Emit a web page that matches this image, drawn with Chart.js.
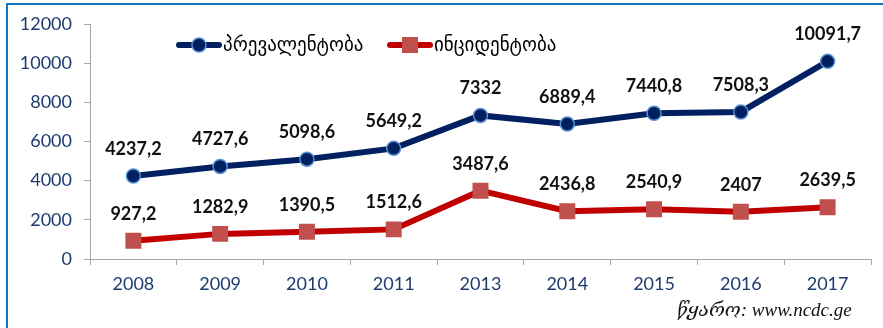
<!DOCTYPE html>
<html>
<head>
<meta charset="utf-8">
<script src="https://cdn.jsdelivr.net/npm/chart.js@4/dist/chart.umd.min.js"></script>
<style>
  html, body { margin: 0; padding: 0; background: #fff; }
  #wrap { position: relative; width: 883px; height: 328px; overflow: hidden; }
  #frame { position: absolute; left: 6px; top: 3px; right: -10px; bottom: -10px;
           border-left: 2px solid #1274c4; border-top: 2px solid #1274c4; pointer-events: none; }
  #src { position: absolute; left: 677px; top: 298px; font: italic 19px "Liberation Serif", "DejaVu Serif", serif; color: #111; }
  canvas { position: absolute; left: 0; top: 0; }
</style>
</head>
<body>
<div id="wrap">
  <canvas id="c" width="883" height="328"></canvas>
  <div id="frame"></div>
  <div id="src">წყარო: www.ncdc.ge</div>
</div>
<script>
// Years on the horizontal axis
const years = ['2008', '2009', '2010', '2011', '2013', '2014', '2015', '2016', '2017'];
// Prevalence and incidence per year
const prevalence = [4237.2, 4727.6, 5098.6, 5649.2, 7332, 6889.4, 7440.8, 7508.3, 10091.7];
const incidence = [927.2, 1282.9, 1390.5, 1512.6, 3487.6, 2436.8, 2540.9, 2407, 2639.5];
const seriesNames = ['პრევალენტობა', 'ინციდენტობა'];
// Value axis range
const yMin = 0, yMax = 12000, yStep = 2000;

const fmt = v => String(v).replace('.', ',');

// Value labels above every point
const valueLabels = {
  id: 'valueLabels',
  afterDatasetsDraw(chart) {
    const ctx = chart.ctx;
    ctx.save();
    ctx.font = 'bold 18px Lato, "Liberation Sans", sans-serif';
    ctx.fillStyle = '#111';
    ctx.textAlign = 'center';
    ctx.textBaseline = 'middle';
    chart.data.datasets.forEach((ds, i) => {
      chart.getDatasetMeta(i).data.forEach((pt, j) => {
        ctx.fillText(fmt(ds.data[j]), pt.x, pt.y - 27);
      });
    });
    ctx.restore();
  }
};

// Legend: thick line sample with marker, followed by the series name
const lineLegend = {
  id: 'lineLegend',
  afterDraw(chart) {
    const ctx = chart.ctx;
    const items = [
      { x: 176, ds: chart.data.datasets[0] },
      { x: 387, ds: chart.data.datasets[1] }
    ];
    const y = 45;
    ctx.save();
    items.forEach(it => {
      const ds = it.ds;
      ctx.strokeStyle = ds.borderColor;
      ctx.lineWidth = 6;
      ctx.lineCap = 'round';
      ctx.beginPath();
      ctx.moveTo(it.x + 3, y);
      ctx.lineTo(it.x + 43, y);
      ctx.stroke();
      const cx = it.x + 23;
      ctx.fillStyle = ds.pointBackgroundColor;
      ctx.strokeStyle = ds.pointBorderColor;
      ctx.lineWidth = 1.5;
      if (ds.pointStyle === 'rect') {
        ctx.fillRect(cx - 8, y - 8, 16, 16);
      } else {
        ctx.beginPath();
        ctx.arc(cx, y, 7, 0, Math.PI * 2);
        ctx.fill();
        ctx.stroke();
      }
      ctx.fillStyle = '#000';
      ctx.font = '19px "DejaVu Sans", sans-serif';
      ctx.textAlign = 'left';
      ctx.textBaseline = 'middle';
      ctx.fillText(ds.label, it.x + 47, y + 1);
    });
    ctx.restore();
  }
};

const axisGrey = '#a6a6a6';
const tickFont = { family: 'Lato, "Liberation Sans", sans-serif', size: 18 };

new Chart(document.getElementById('c'), {
  type: 'line',
  data: {
    labels: years,
    datasets: [
      {
        label: seriesNames[0],
        data: prevalence,
        borderColor: '#002060',
        borderWidth: 6,
        pointStyle: 'circle',
        pointRadius: 7,
        pointBackgroundColor: '#002060',
        pointBorderColor: '#5b8fd0',
        pointBorderWidth: 1.5,
        tension: 0
      },
      {
        label: seriesNames[1],
        data: incidence,
        borderColor: '#c00000',
        borderWidth: 6,
        pointStyle: 'rect',
        pointRadius: 11.3,
        pointBackgroundColor: '#c0504d',
        pointBorderColor: '#c0504d',
        pointBorderWidth: 0,
        tension: 0
      }
    ]
  },
  options: {
    responsive: false,
    animation: false,
    layout: { padding: { left: 0, right: 12, top: 24, bottom: 0 } },
    plugins: { legend: { display: false }, tooltip: { enabled: false } },
    scales: {
      x: {
        type: 'category',
        offset: true,
        grid: { offset: true, drawOnChartArea: false, tickLength: 6, color: axisGrey },
        border: { color: axisGrey, width: 1 },
        ticks: { color: '#1f3a6e', font: tickFont, padding: 8, maxRotation: 0 },
        afterFit(scale) { scale.height = 69; }
      },
      y: {
        min: yMin, max: yMax,
        grid: { drawOnChartArea: false, tickLength: 6, color: axisGrey },
        border: { color: axisGrey, width: 1 },
        ticks: { stepSize: yStep, color: '#1f3a6e', font: tickFont, padding: 12,
                 callback: v => String(v) },
        afterFit(scale) { scale.width = 90; }
      }
    }
  },
  plugins: [valueLabels, lineLegend]
});
</script>
</body>
</html>
